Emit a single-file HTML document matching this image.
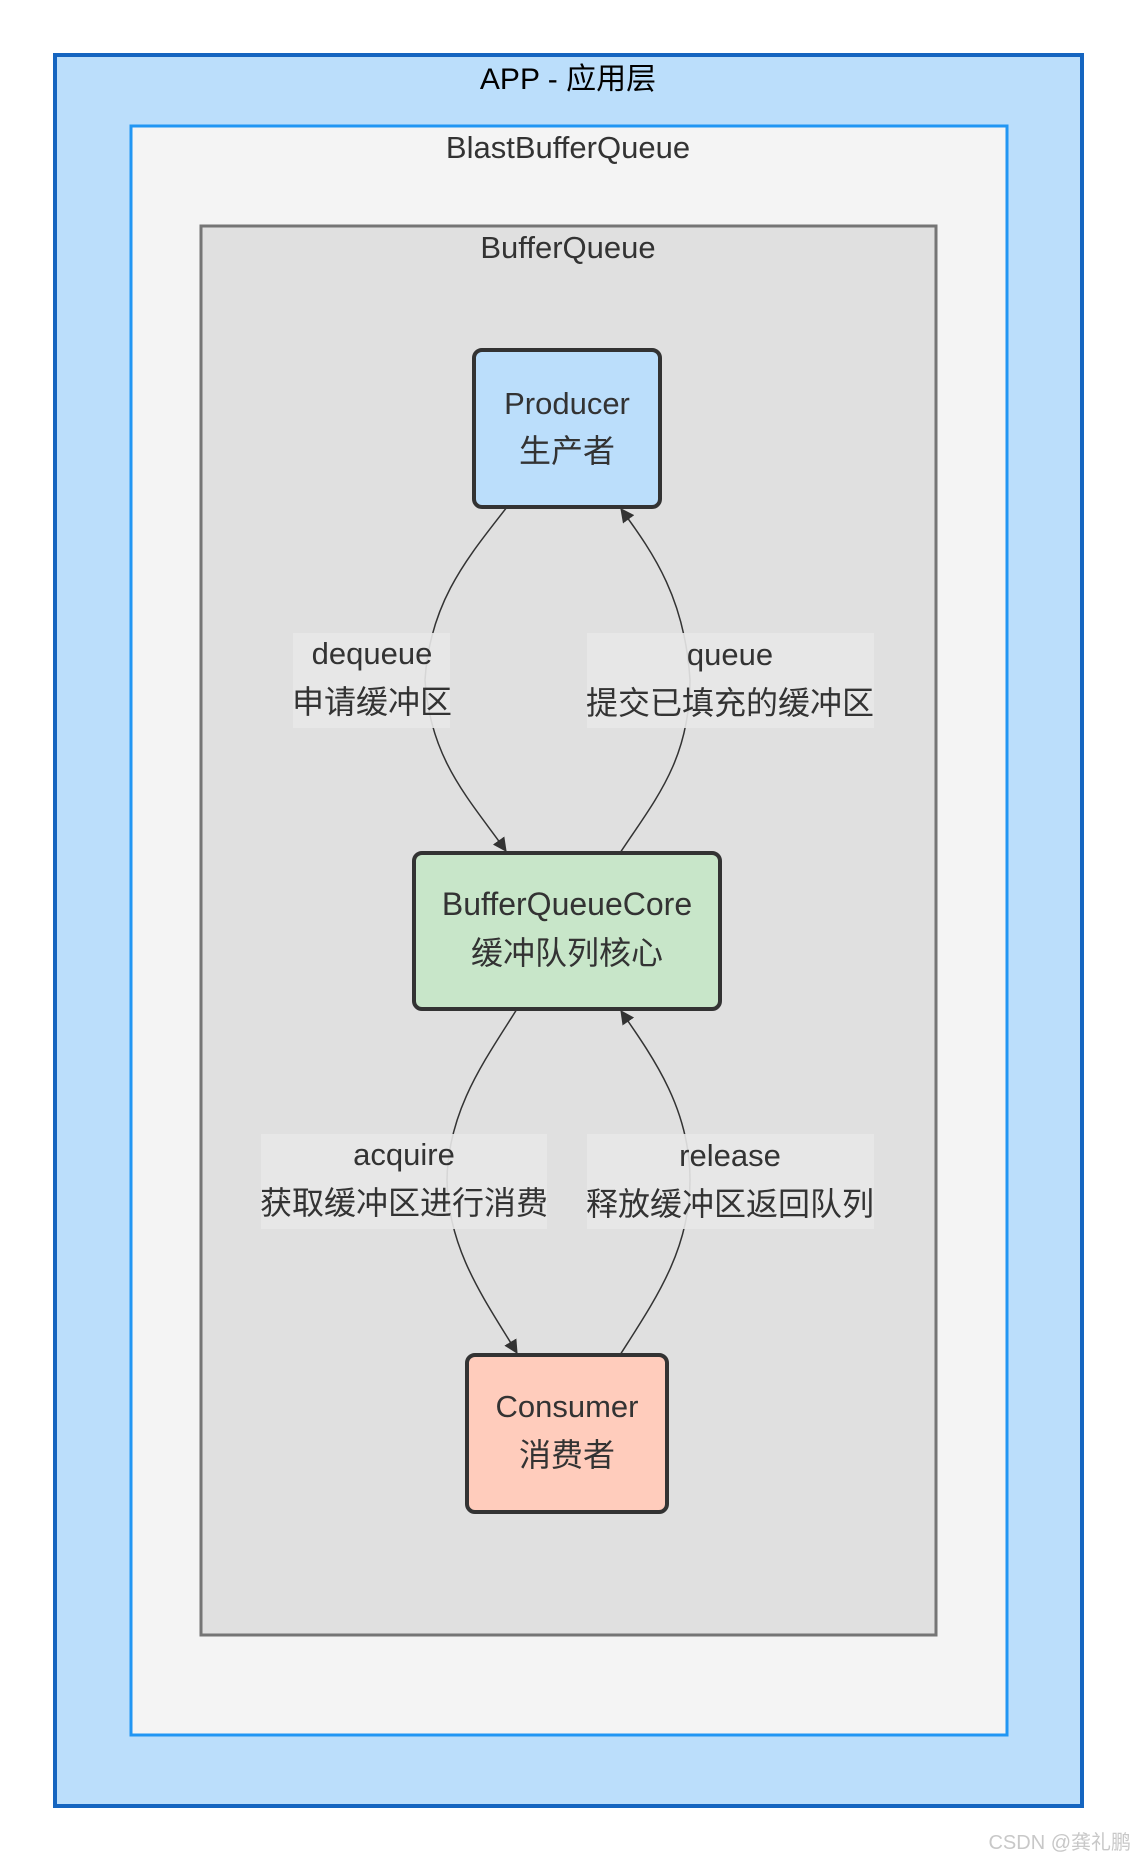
<!DOCTYPE html>
<html><head><meta charset="utf-8"><style>
html,body{margin:0;padding:0;background:#fff;}
svg{display:block;}
text{font-family:"Liberation Sans","Noto Sans CJK SC",sans-serif;}
</style></head><body>
<svg width="1137" height="1862" viewBox="0 0 1137 1862" xmlns="http://www.w3.org/2000/svg">
<defs>
<marker id="a" viewBox="0 0 12 12" refX="11" refY="6" markerWidth="14" markerHeight="14" orient="auto" markerUnits="userSpaceOnUse">
<path d="M0,0 L12,6 L0,12 z" fill="#333"/>
</marker>
</defs>
<rect x="55" y="55" width="1027" height="1751" fill="#bbdefb" stroke="#1565c0" stroke-width="4"/>
<text x="568" y="89" font-size="30" text-anchor="middle" fill="#000">APP - 应用层</text>
<rect x="131" y="126" width="876" height="1609" fill="#f4f4f4" stroke="#2196f3" stroke-width="3"/>
<text x="568" y="158" font-size="31" text-anchor="middle" fill="#333">BlastBufferQueue</text>
<rect x="201" y="226" width="735" height="1409" fill="#e0e0e0" stroke="#757575" stroke-width="3"/>
<text x="568" y="258" font-size="31" text-anchor="middle" fill="#333">BufferQueue</text>

<g fill="none" stroke="#333" stroke-width="1.5">
<path d="M507,507 C470,555 430,600 425,680 C430,760 470,800 506,851" marker-end="url(#a)"/>
<path d="M620,853 C655,800 690,760 690,680 C685,600 655,555 621,509" marker-end="url(#a)"/>
<path d="M517,1009 C485,1060 448,1110 447,1180 C448,1250 485,1300 517,1353" marker-end="url(#a)"/>
<path d="M620,1355 C655,1300 690,1250 690,1180 C690,1110 655,1060 621,1011" marker-end="url(#a)"/>
</g>

<g font-size="31" fill="#333" text-anchor="middle">
<rect x="293" y="633" width="157" height="95" fill="#e8e8e8" opacity="0.9"/>
<text x="372" y="664">dequeue</text>
<text x="372" y="713" font-size="32">申请缓冲区</text>
<rect x="587" y="633" width="287" height="95" fill="#e8e8e8" opacity="0.9"/>
<text x="730" y="665">queue</text>
<text x="730" y="714" font-size="32">提交已填充的缓冲区</text>
<rect x="261" y="1134" width="286" height="95" fill="#e8e8e8" opacity="0.9"/>
<text x="404" y="1165">acquire</text>
<text x="404" y="1214" font-size="32">获取缓冲区进行消费</text>
<rect x="587" y="1134" width="287" height="95" fill="#e8e8e8" opacity="0.9"/>
<text x="730" y="1166">release</text>
<text x="730" y="1215" font-size="32">释放缓冲区返回队列</text>
</g>

<rect x="474" y="350" width="186" height="157" rx="8" fill="#bbdefb" stroke="#333" stroke-width="4"/>
<rect x="414" y="853" width="306" height="156" rx="8" fill="#c8e6c9" stroke="#333" stroke-width="4"/>
<rect x="467" y="1355" width="200" height="157" rx="8" fill="#ffccbc" stroke="#333" stroke-width="4"/>
<g font-size="31" fill="#333" text-anchor="middle">
<text x="567" y="414">Producer</text>
<text x="567" y="462" font-size="32">生产者</text>
<text x="567" y="915" font-size="32">BufferQueueCore</text>
<text x="567" y="964" font-size="32">缓冲队列核心</text>
<text x="567" y="1417">Consumer</text>
<text x="567" y="1466" font-size="32">消费者</text>
</g>
<text x="1131" y="1849" font-size="20" fill="#c8c8c8" text-anchor="end">CSDN @龚礼鹏</text>
</svg>
</body></html>
